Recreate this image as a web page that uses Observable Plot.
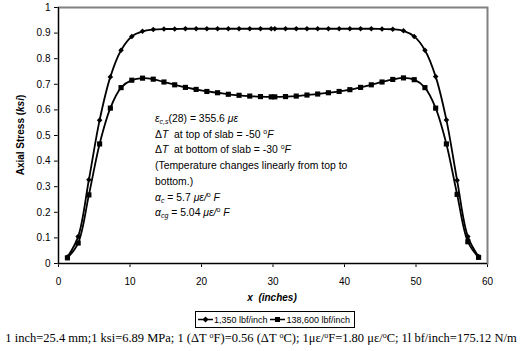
<!DOCTYPE html>
<html><head><meta charset="utf-8">
<script src="https://cdn.jsdelivr.net/npm/d3@7"></script>
<script src="https://cdn.jsdelivr.net/npm/@observablehq/plot@0.6"></script>
<style>
body{margin:0;background:#fff;}
#wrap{width:522px;height:351px;position:relative;font-family:"Liberation Sans",Arial,sans-serif;}
#legend{position:absolute;left:197px;top:311px;height:15px;border:1px solid #000;display:flex;align-items:center;font-size:9px;padding:0 2px 0 1px;white-space:nowrap;}
#legend .it{display:flex;align-items:center;margin-right:2px;}
#foot{position:absolute;top:331px;left:0;width:522px;text-align:center;font-family:"Liberation Serif","Times New Roman",serif;font-size:12.5px;white-space:nowrap;}
#foot sup{font-size:8px;vertical-align:4px;line-height:0;}
</style></head>
<body><div id="wrap"></div>
<script>
const xPos = [1.25,2.75,4.25,5.75,7.25,8.75,10.25,11.75,13.25,14.75,16.25,17.75,19.25,20.75,22.25,23.75,25.25,26.75,28.25,29.75,
  30.25,31.75,33.25,34.75,36.25,37.75,39.25,40.75,42.25,43.75,45.25,46.75,48.25,49.75,51.25,52.75,54.25,55.75,57.25,58.75];
const stress1350 = [0.025,0.105,0.327,0.560,0.729,0.833,0.887,0.907,0.914,0.916,0.916,0.917,0.917,0.917,0.917,0.917,0.917,0.917,0.917,0.917,
  0.917,0.917,0.917,0.917,0.917,0.917,0.917,0.917,0.917,0.917,0.916,0.915,0.909,0.887,0.833,0.730,0.561,0.325,0.105,0.027];
const stress138600 = [0.022,0.080,0.268,0.467,0.607,0.687,0.716,0.724,0.720,0.709,0.698,0.688,0.680,0.672,0.667,0.661,0.657,0.654,0.652,0.651,
  0.651,0.652,0.654,0.658,0.662,0.667,0.672,0.679,0.688,0.698,0.709,0.719,0.725,0.718,0.687,0.607,0.467,0.270,0.085,0.024];
const seriesNames = ["1,350 lbf/inch","138,600 lbf/inch"];
const yTicks = [0,0.1,0.2,0.3,0.4,0.5,0.6,0.7,0.8,0.9,1];
const xTicks = [0,10,20,30,40,50,60];

const d1 = xPos.map((x,i)=>({x, y: stress1350[i]}));
const d2 = xPos.map((x,i)=>({x, y: stress138600[i]}));

const chart = Plot.plot({
  width: 522, height: 305,
  marginLeft: 58, marginRight: 35, marginTop: 7, marginBottom: 42,
  style: {fontFamily: '"Liberation Sans", Arial, sans-serif', fontSize: "10px", background: "#fff", color: "#000"},
  x: {domain: [0,60], ticks: xTicks, tickSize: 4, tickPadding: 10, label: null},
  y: {domain: [0,1], ticks: yTicks, tickSize: 4, tickPadding: 4, label: null, tickFormat: d => String(+d.toFixed(1))},
  marks: [
    Plot.frame({stroke: "#808080", strokeWidth: 2}),
    Plot.ruleX([0], {stroke: "#000", strokeWidth: 1}),
    Plot.ruleY([0], {stroke: "#000", strokeWidth: 1}),
    Plot.line(d1, {x: "x", y: "y", curve: "catmull-rom", stroke: "#000", strokeWidth: 1.8}),
    Plot.line(d2, {x: "x", y: "y", curve: "catmull-rom", stroke: "#000", strokeWidth: 1.8}),
    Plot.dot(d1, {x: "x", y: "y", symbol: "diamond2", r: 2.5, fill: "#000", stroke: "none"}),
    Plot.dot(d2, {x: "x", y: "y", symbol: "square", r: 2.9, fill: "#000", stroke: "none"})
  ]
});
const wrap = document.getElementById("wrap");
wrap.appendChild(chart);

const svg = d3.select(chart);
const yt = svg.append("text").attr("transform","translate(24,135) rotate(-90)")
  .attr("text-anchor","middle").attr("font-weight","bold").attr("font-size","10px");
yt.append("tspan").text("Axial Stress (");
yt.append("tspan").attr("font-style","italic").text("ksi");
yt.append("tspan").text(")");
const xt = svg.append("text").attr("x",272).attr("y",301)
  .attr("text-anchor","middle").attr("font-weight","bold").attr("font-style","italic").attr("font-size","10px");
xt.append("tspan").text("x");
xt.append("tspan").text("  (inches)");

const ann = [
  [["ε",1],["c,s",1,"sub"],["(28) = 355.6 ",0],["με",1]],
  [["Δ",0],["T",1],["  at top of slab = -50 ",0],["o",0,"sup"],["F",1]],
  [["Δ",0],["T",1],["  at bottom of slab = -30 ",0],["o",0,"sup"],["F",1]],
  [["(Temperature changes linearly from top to",0]],
  [["bottom.)",0]],
  [["α",1],["c",1,"sub"],[" = 5.7 ",0],["με/",1],["o",0,"sup"],[" F",1]],
  [["α",1],["cg",1,"sub"],[" = 5.04 ",0],["με/",1],["o",0,"sup"],[" F",1]]
];
const ax = 155, ay0 = 122, lh = 15.7;
ann.forEach((parts, i) => {
  const t = svg.append("text").attr("x", ax).attr("y", ay0 + i*lh)
    .attr("font-size","10.4px").attr("text-anchor","start");
  parts.forEach(([s, it, pos]) => {
    const sp = t.append("tspan").text(s);
    if (it) sp.attr("font-style","italic");
    if (pos === "sub") sp.attr("font-size","7px").attr("dy", "2");
    if (pos === "sup") sp.attr("font-size","7px").attr("dy", "-4");
    if (pos) sp.attr("data-pos", pos);
  });
  const spans = t.selectAll("tspan").nodes();
  for (let k = 1; k < spans.length; k++) {
    const prev = spans[k-1].getAttribute("data-pos");
    if (prev === "sub") spans[k].setAttribute("dy", "-2");
    if (prev === "sup") spans[k].setAttribute("dy", "4");
  }
});

const leg = document.createElement("div");
leg.id = "legend";
const glyph = (sym) => `<svg width="17" height="9"><line x1="1" x2="16" y1="4.5" y2="4.5" stroke="#000" stroke-width="1.5"/>${sym==="d" ? '<path d="M8.5,1.5L11.5,4.5L8.5,7.5L5.5,4.5Z" fill="#000"/>' : '<rect x="6" y="2" width="5" height="5" fill="#000"/>'}</svg>`;
leg.innerHTML = `<span class="it">${glyph("d")}<span>${seriesNames[0]}</span></span><span class="it">${glyph("s")}<span>${seriesNames[1]}</span></span>`;
wrap.appendChild(leg);
const foot = document.createElement("div");
foot.id = "foot";
foot.innerHTML = '1 inch=25.4 mm;1 ksi=6.89 MPa; 1 (ΔT <sup>o</sup>F)=0.56 (ΔT <sup>o</sup>C); 1με/<sup>o</sup>F=1.80 με/<sup>o</sup>C; 1l bf/inch=175.12 N/m';
wrap.appendChild(foot);
const lw = leg.getBoundingClientRect().width;
leg.style.left = (275 - lw/2) + "px";
</script></body></html>
